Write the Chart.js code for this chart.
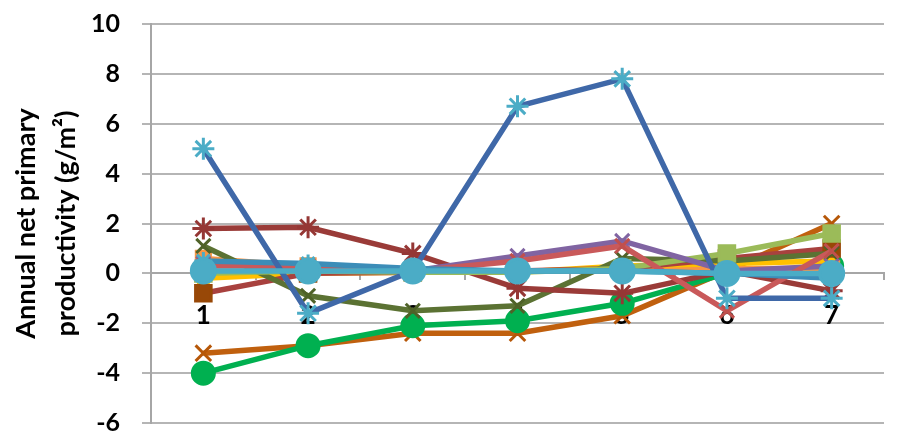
<!DOCTYPE html>
<html>
<head>
<meta charset="utf-8">
<script src="https://cdn.jsdelivr.net/npm/chart.js@4/dist/chart.umd.min.js"></script>
<style>
  html, body { margin: 0; padding: 0; background: #fff; }
  #wrap { width: 899px; height: 438px; }
</style>
</head>
<body>
<div id="wrap"><canvas id="chart"></canvas></div>
<script>
const categories = ["1", "2", "3", "4", "5", "6", "7"]
const yTicks = [-6, -4, -2, 0, 2, 4, 6, 8, 10]

// series, listed from top layer to bottom layer
const tealCircles   = [0.1, 0.1, 0.1, 0.1, 0.1, 0.0, 0.0]
const blueStar      = [5.0, -1.6, 0.1, 6.7, 7.8, -1.0, -1.0]
const steelBlue     = [0.5, 0.4, 0.2, 0.1, 0.1, 0.0, -0.2]
const salmonX       = [0.3, 0.3, 0.1, 0.5, 1.1, -1.5, 0.9]
const purpleX       = [0.4, 0.2, 0.1, 0.7, 1.3, 0.1, 0.3]
const lightGreenSq  = [0.0, 0.1, 0.05, 0.05, 0.2, 0.8, 1.6]
const darkRedStar   = [1.8, 1.85, 0.8, -0.6, -0.8, 0.1, -0.7]
const oliveX        = [1.1, -0.9, -1.5, -1.3, 0.6, 0.5, 0.8]
const brownSq       = [-0.8, 0.0, 0.05, 0.1, 0.2, 0.6, 1.0]
const yellowLine    = [-0.2, 0.0, 0.05, 0.05, 0.3, 0.4, 0.5]
const orangeSq      = [0.6, 0.3, 0.1, 0.1, 0.15, 0.2, 0.2]
const greenCircles  = [-4.0, -2.9, -2.1, -1.9, -1.2, 0.0, 0.3]
const brownX        = [-3.2, -2.9, -2.4, -2.4, -1.7, 0.1, 2.0]

function series(data, line, marker, style, radius, fill) {
  return {
    data: data,
    borderColor: line,
    borderWidth: 5.5,
    pointStyle: style,
    pointRadius: radius,
    pointHoverRadius: radius,
    pointBorderColor: marker,
    pointBackgroundColor: fill || marker,
    pointBorderWidth: 3,
    tension: 0
  }
}

const datasets = [
  series(tealCircles, "#4BACC6", "#4BACC6", "circle", 12),
  series(blueStar, "#3F68A8", "#4BACC6", "star", 11),
  series(steelBlue, "#3C8DB8", "#4BACC6", "star", 9),
  series(salmonX, "#C9595A", "#C0504D", "crossRot", 10),
  series(purpleX, "#8064A2", "#8064A2", "crossRot", 10),
  series(lightGreenSq, "#9BBB59", "#9BBB59", "rect", 11),
  series(darkRedStar, "#9A3B38", "#953735", "star", 11),
  series(oliveX, "#5B7233", "#4F6228", "crossRot", 10),
  series(brownSq, "#A8413E", "#984807", "rect", 11),
  series(yellowLine, "#FFC000", "#FFC000", "rect", 7),
  series(orangeSq, "#F79646", "#F79646", "rect", 10),
  series(greenCircles, "#00B050", "#00B050", "circle", 11),
  series(brownX, "#C0600E", "#B65708", "crossRot", 11)
]
datasets.forEach((d, i) => { d.order = i })

const font = "Lato, 'Noto Sans', sans-serif"

new Chart(document.getElementById("chart"), {
  type: "line",
  data: { labels: categories, datasets: datasets },
  options: {
    responsive: true,
    maintainAspectRatio: false,
    animation: false,
    layout: { padding: { top: 24, right: 1, bottom: 14, left: 6 } },
    plugins: {
      legend: { display: false },
      tooltip: { enabled: false }
    },
    scales: {
      x: {
        type: "category",
        position: { y: 0 },
        offset: true,
        afterFit: (scale) => { scale.height = 0 },
        border: { color: "#A6A6A6", width: 2 },
        grid: { drawOnChartArea: false, offset: true, tickLength: 6, color: "#A6A6A6", lineWidth: 2 },
        ticks: {
          color: "#000",
          padding: 21,
          maxRotation: 0,
          font: { family: font, size: 26, weight: "bold" }
        }
      },
      y: {
        min: -6,
        max: 10,
        afterBuildTicks: (scale) => { scale.ticks = yTicks.map(v => ({ value: v })) },
        afterFit: (scale) => { scale.paddingTop = 0; scale.paddingBottom = 0 },
        border: { color: "#A6A6A6", width: 2 },
        grid: { color: "#B5B5B5", lineWidth: 2, tickLength: 9 },
        ticks: {
          color: "#000",
          padding: 22,
          font: { family: font, size: 25, weight: "bold" }
        },
        title: {
          display: true,
          text: ["Annual net primary", "productivity (g/m\u00B2)"],
          color: "#000",
          padding: { top: 0, bottom: -18 },
          font: { family: font, size: 27, weight: "bold", lineHeight: 1.5 }
        }
      }
    }
  }
})
</script>
</body>
</html>
